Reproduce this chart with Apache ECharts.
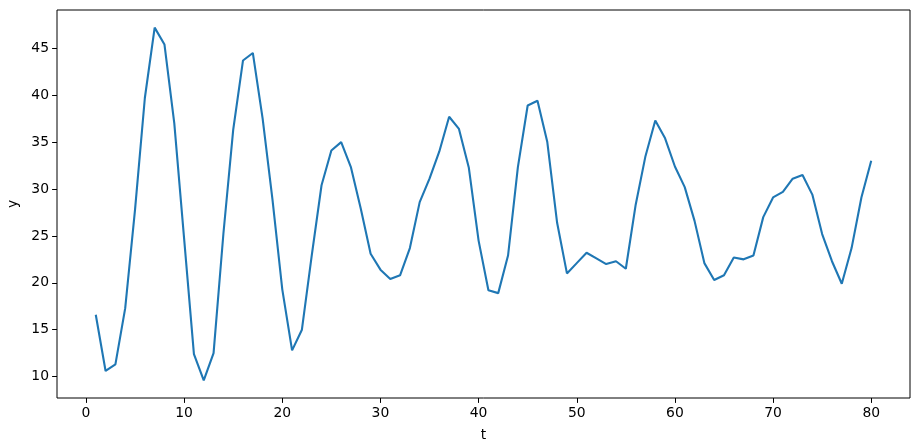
<!DOCTYPE html>
<html>
<head>
<meta charset="utf-8">
<script src="https://cdn.jsdelivr.net/npm/echarts@6/dist/echarts.min.js"></script>
<style>html,body{margin:0;padding:0;background:#fff;}#c{width:919px;height:448px;}</style>
</head>
<body>
<div id="c"></div>
<script>
const tValues = [];
for (let i = 1; i <= 80; i++) tValues.push(i);
const yValues = [
  16.6, 10.6, 11.3, 17.3, 27.8, 39.7, 47.2, 45.4, 37.0, 24.7,
  12.4, 9.6, 12.5, 25.2, 36.3, 43.7, 44.5, 37.5, 28.9, 19.3,
  12.8, 15.0, 22.9, 30.4, 34.1, 35.0, 32.3, 27.9, 23.1, 21.4,
  20.4, 20.8, 23.7, 28.6, 31.1, 34.0, 37.7, 36.4, 32.3, 24.5,
  19.2, 18.9, 22.9, 32.3, 38.9, 39.4, 35.0, 26.4, 21.0, 22.1,
  23.2, 22.6, 22.0, 22.3, 21.5, 28.3, 33.5, 37.3, 35.4, 32.4,
  30.2, 26.6, 22.1, 20.3, 20.8, 22.7, 22.5, 22.9, 27.0, 29.1,
  29.7, 31.1, 31.5, 29.4, 25.2, 22.3, 19.9, 23.7, 29.1, 33.0
];
const xTicks = [0, 10, 20, 30, 40, 50, 60, 70, 80];
const yTicks = [10, 15, 20, 25, 30, 35, 40, 45];

const xMin = -2.95, xMax = 83.95;
const yMin = 7.72, yMax = 49.08;

const font = 'DejaVu Sans';
const chart = echarts.init(document.getElementById('c'), null, {renderer: 'canvas'});
chart.setOption({
  animation: false,
  backgroundColor: '#fff',
  grid: {left: 57, right: 9, top: 10, bottom: 50, show: true, borderColor: '#000', borderWidth: 1,
         backgroundColor: '#fff', containLabel: false, outerBoundsMode: 'none'},
  xAxis: {
    type: 'value', min: xMin, max: xMax,
    name: 't', nameLocation: 'middle', nameGap: 30,
    nameTextStyle: {fontFamily: font, fontSize: 13.9, color: '#000'},
    axisLine: {show: false, onZero: false},
    splitLine: {show: false},
    axisTick: {show: true, inside: false, length: 4.9, lineStyle: {color: '#000', width: 1}, customValues: xTicks},
    axisLabel: {fontFamily: font, fontSize: 13.9, color: '#000', margin: 8, customValues: xTicks}
  },
  yAxis: {
    type: 'value', min: yMin, max: yMax,
    name: 'y', nameLocation: 'middle', nameGap: 35, nameRotate: 90,
    nameTextStyle: {fontFamily: font, fontSize: 13.9, color: '#000'},
    axisLine: {show: false, onZero: false},
    splitLine: {show: false},
    axisTick: {show: true, inside: false, length: 4.9, lineStyle: {color: '#000', width: 1}, customValues: yTicks},
    axisLabel: {fontFamily: font, fontSize: 13.9, color: '#000', margin: 8, customValues: yTicks}
  },
  series: [{
    type: 'line',
    data: tValues.map((t, i) => [t, yValues[i]]),
    showSymbol: false,
    symbol: 'none',
    lineStyle: {color: '#1f77b4', width: 2.1},
    itemStyle: {color: '#1f77b4'}
  }]
});
</script>
</body>
</html>
